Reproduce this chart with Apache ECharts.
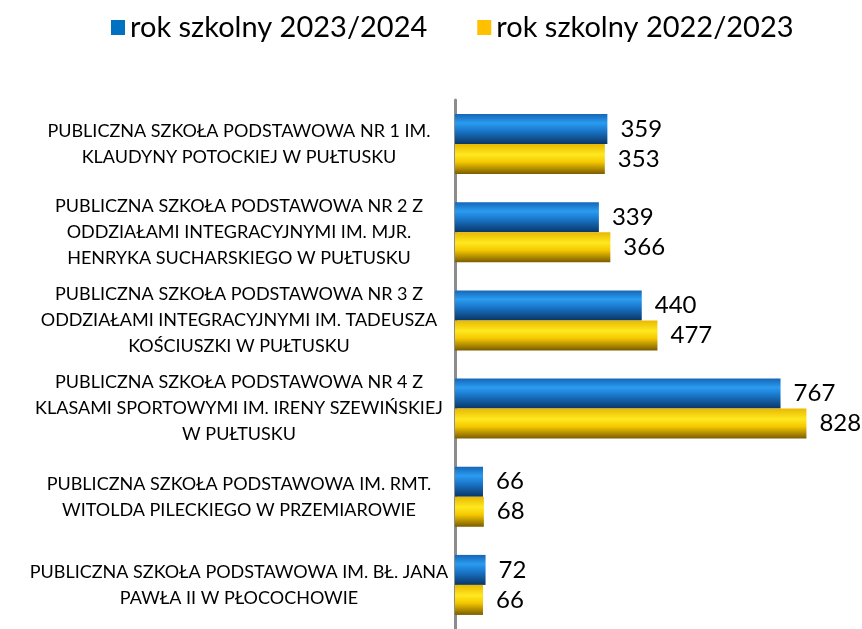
<html>
<head>
    <meta charset="utf-8" />
    <title>Uczniowie</title>
    <script src="https://cdn.jsdelivr.net/npm/echarts@6/dist/echarts.min.js"></script>
</head>
<body style="margin:0;background:#fff;">
    <div id="main" style="width:862px;height:629px;"></div>
    <script type="text/javascript">
        var schools = [
            'PUBLICZNA SZKOŁA PODSTAWOWA NR 1 IM.\nKLAUDYNY POTOCKIEJ W PUŁTUSKU',
            'PUBLICZNA SZKOŁA PODSTAWOWA NR 2 Z\nODDZIAŁAMI INTEGRACYJNYMI IM. MJR.\nHENRYKA SUCHARSKIEGO W PUŁTUSKU',
            'PUBLICZNA SZKOŁA PODSTAWOWA NR 3 Z\nODDZIAŁAMI INTEGRACYJNYMI IM. TADEUSZA\nKOŚCIUSZKI W PUŁTUSKU',
            'PUBLICZNA SZKOŁA PODSTAWOWA NR 4 Z\nKLASAMI SPORTOWYMI IM. IRENY SZEWIŃSKIEJ\nW PUŁTUSKU',
            'PUBLICZNA SZKOŁA PODSTAWOWA IM. RMT.\nWITOLDA PILECKIEGO W PRZEMIAROWIE',
            'PUBLICZNA SZKOŁA PODSTAWOWA IM. BŁ. JANA\nPAWŁA II W PŁOCOCHOWIE'
        ];
        var year2324 = [359, 339, 440, 767, 66, 72];
        var year2223 = [353, 366, 477, 828, 68, 66];
        var seriesNames = ['rok szkolny 2023/2024', 'rok szkolny 2022/2023'];

        var myChart = echarts.init(document.getElementById('main'));

        function grad(stops) {
            return new echarts.graphic.LinearGradient(0, 0, 0, 1, stops);
        }
        var blueFill = grad([
            { offset: 0, color: '#1566b8' },
            { offset: 0.3, color: '#2b9cf0' },
            { offset: 0.55, color: '#1a78cc' },
            { offset: 1, color: '#0a3666' }
        ]);
        var yellowFill = grad([
            { offset: 0, color: '#e8b800' },
            { offset: 0.35, color: '#ffe820' },
            { offset: 0.6, color: '#f5c800' },
            { offset: 1, color: '#7a5c00' }
        ]);

        var font = 'Lato, sans-serif';

        var option = {
            animation: false,
            legend: {
                top: 8,
                left: 106,
                icon: 'rect',
                itemWidth: 14,
                itemHeight: 15,
                itemGap: 50,
                textStyle: { fontSize: 29, color: '#000', fontFamily: font },
                data: [
                    { name: seriesNames[0], itemStyle: { color: '#0070c0' } },
                    { name: seriesNames[1], itemStyle: { color: '#ffc000' } }
                ]
            },
            grid: {
                left: 455,
                right: 25,
                top: 100,
                bottom: -4
            },
            xAxis: {
                type: 'value',
                min: 0,
                max: 900,
                show: false
            },
            yAxis: {
                type: 'category',
                inverse: true,
                data: schools,
                axisLine: { show: true, lineStyle: { color: '#8c8c8c', width: 3 } },
                axisTick: { show: false },
                axisLabel: {
                    align: 'center',
                    margin: 216,
                    fontSize: 18,
                    lineHeight: 26,
                    color: '#000',
                    fontFamily: font
                }
            },
            series: [
                {
                    name: seriesNames[0],
                    type: 'bar',
                    data: year2324,
                    barWidth: 30,
                    barGap: '0%',
                    itemStyle: { color: blueFill },
                    label: {
                        show: true,
                        position: 'right',
                        distance: 13,
                        fontSize: 24,
                        color: '#000',
                        fontFamily: font
                    }
                },
                {
                    name: seriesNames[1],
                    type: 'bar',
                    data: year2223,
                    barWidth: 30,
                    barGap: '0%',
                    itemStyle: { color: yellowFill },
                    label: {
                        show: true,
                        position: 'right',
                        distance: 13,
                        fontSize: 24,
                        color: '#000',
                        fontFamily: font
                    }
                }
            ]
        };

        myChart.setOption(option);
    </script>
</body>
</html>
